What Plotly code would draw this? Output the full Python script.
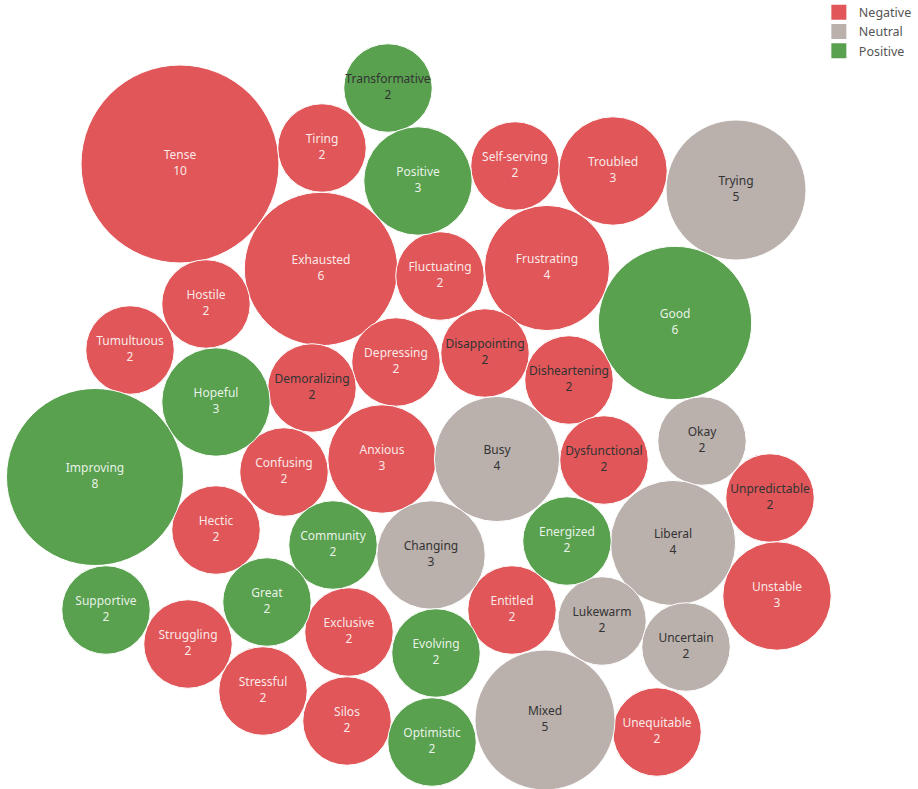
import numpy as np
import plotly.graph_objects as go

words = ["Tense", "Transformative", "Tiring", "Positive", "Self-serving", "Troubled", "Trying",
         "Exhausted", "Fluctuating", "Frustrating", "Hostile", "Good", "Tumultuous", "Depressing",
         "Disappointing", "Demoralizing", "Disheartening", "Hopeful", "Okay", "Improving",
         "Anxious", "Busy", "Confusing", "Dysfunctional", "Unpredictable", "Hectic", "Community",
         "Changing", "Energized", "Liberal", "Unstable", "Supportive", "Great", "Entitled",
         "Lukewarm", "Exclusive", "Struggling", "Uncertain", "Evolving", "Stressful", "Mixed",
         "Silos", "Optimistic", "Unequitable"]
counts = [10, 2, 2, 3, 2, 3, 5,
          6, 2, 4, 2, 6, 2, 2,
          2, 2, 2, 3, 2, 8,
          3, 4, 2, 2, 2, 2, 2,
          3, 2, 4, 3, 2, 2, 2,
          2, 2, 2, 2, 2, 2, 5,
          2, 2, 2]
sentiment = ["Negative", "Positive", "Negative", "Positive", "Negative", "Negative", "Neutral",
             "Negative", "Negative", "Negative", "Negative", "Positive", "Negative", "Negative",
             "Negative", "Negative", "Negative", "Positive", "Neutral", "Positive",
             "Negative", "Neutral", "Negative", "Negative", "Negative", "Negative", "Positive",
             "Neutral", "Positive", "Neutral", "Negative", "Positive", "Positive", "Negative",
             "Neutral", "Negative", "Negative", "Neutral", "Positive", "Negative", "Neutral",
             "Negative", "Positive", "Negative"]
# bubble centres (layout units = pixels of the picture)
cx = [180, 388, 322, 418, 515, 613, 736,
      321, 440, 547, 206, 675, 130, 396,
      485, 312, 569, 216, 702, 95,
      382, 497, 284, 604, 770, 216, 333,
      431, 567, 673, 777, 106, 267, 512,
      602, 349, 188, 686, 436, 263, 545,
      347, 432, 657]
cy = [164, 88, 148, 181, 166, 171, 190,
      269, 276, 268, 304, 323, 350, 362,
      353, 388, 380, 402, 441, 477,
      459, 459, 472, 460, 498, 530, 545,
      555, 541, 543, 596, 610, 602, 610,
      621, 632, 644, 647, 653, 691, 720,
      721, 742, 732]
dark_label_words = ["Transformative", "Demoralizing", "Disappointing", "Disheartening",
                    "Dysfunctional", "Unpredictable"]

colors = {"Negative": "#E15759", "Neutral": "#BAB0AC", "Positive": "#59A14F"}
order = ["Negative", "Neutral", "Positive"]

fig = go.Figure()
for s in order:
    idx = [i for i, v in enumerate(sentiment) if v == s]
    xs = [cx[i] for i in idx]
    ys = [cy[i] for i in idx]
    vals = np.array([counts[i] for i in idx], dtype=float)
    txt = [f"{words[i]}<br>{counts[i]}" for i in idx]
    tcol = []
    for i in idx:
        if s == "Neutral" or words[i] in dark_label_words:
            tcol.append("#333333")
        else:
            tcol.append("rgba(255,255,255,0.88)")
    fig.add_trace(go.Scatter(
        x=xs, y=ys, mode="markers+text", text=txt,
        textposition="middle center",
        textfont=dict(family="Noto Sans, sans-serif", size=12, color=tcol),
        marker=dict(size=62.6 * np.sqrt(vals), sizemode="diameter", color=colors[s],
                    opacity=1, line=dict(width=1, color="white")),
        showlegend=False, hoverinfo="text", name=s))

for s in order:
    fig.add_trace(go.Scatter(
        x=[None], y=[None], mode="markers", name=s,
        marker=dict(symbol="square", size=15, color=colors[s]),
        showlegend=True))

fig.update_layout(
    width=918, height=789,
    margin=dict(l=0, r=0, t=0, b=0, autoexpand=False),
    paper_bgcolor="white", plot_bgcolor="white",
    xaxis=dict(range=[0, 918], visible=False, fixedrange=True),
    yaxis=dict(range=[789, 0], visible=False, fixedrange=True),
    legend=dict(x=0.892, y=1.003, xanchor="left", yanchor="top",
                font=dict(family="Noto Sans, sans-serif", size=12.5, color="#555555"),
                itemwidth=30, tracegroupgap=0, bgcolor="rgba(0,0,0,0)"),
    showlegend=True,
)
fig.write_html("out.html")
